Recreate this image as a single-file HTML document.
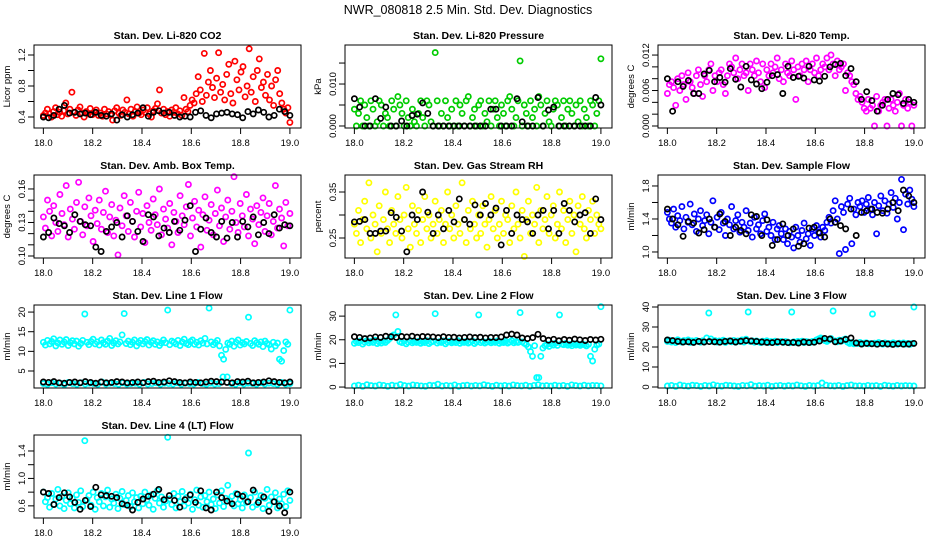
<!DOCTYPE html>
<html><head><meta charset="utf-8"><style>
html,body{margin:0;padding:0;background:#fff;}
svg{display:block;font-family:"Liberation Sans",sans-serif;}
</style></head><body>
<svg id="chart" width="936" height="540" viewBox="0 0 936 540" xmlns="http://www.w3.org/2000/svg">
<rect width="936" height="540" fill="#fff"/>
<text x="468" y="14" text-anchor="middle" font-size="12.5">NWR_080818  2.5 Min. Std. Dev. Diagnostics</text>
</svg>
<script>
// ---- data ----
const xTickLabels = ["18.0","18.2","18.4","18.6","18.8","19.0"];
const xTickValues = [18.0,18.2,18.4,18.6,18.8,19.0];
const timeStart = 18.0, timeEnd = 19.0;

const panelTitles = ["Stan. Dev. Li-820 CO2","Stan. Dev. Li-820 Pressure","Stan. Dev. Li-820 Temp.","Stan. Dev. Amb. Box Temp.","Stan. Dev. Gas Stream RH","Stan. Dev. Sample Flow","Stan. Dev. Line 1 Flow","Stan. Dev. Line 2 Flow","Stan. Dev. Line 3 Flow","Stan. Dev. Line 4 (LT) Flow"];
const panelUnits = ["Licor ppm","kPa","degrees C","degrees C","percent","ml/min","ml/min","ml/min","ml/min","ml/min"];

const co2Red = [0.42,0.45,0.50,0.44,0.40,0.47,0.52,0.43,0.46,0.41,0.48,0.58,0.44,0.50,0.72,0.46,0.42,0.49,0.53,0.45,0.40,0.47,0.44,0.51,0.43,0.46,0.49,0.42,0.45,0.41,0.50,0.44,0.47,0.43,0.36,0.48,0.52,0.45,0.42,0.49,0.46,0.62,0.44,0.50,0.41,0.47,0.53,0.45,0.43,0.49,0.46,0.52,0.44,0.40,0.48,0.51,0.57,0.75,0.45,0.50,0.43,0.47,0.41,0.49,0.46,0.52,0.44,0.48,0.42,0.65,0.50,0.47,0.55,0.62,0.58,0.70,0.92,0.75,0.60,1.22,0.68,0.85,1.0,0.78,0.65,0.90,1.23,0.72,0.82,0.62,0.95,1.08,0.70,0.58,1.12,0.88,0.75,0.98,1.05,0.66,0.80,1.28,0.72,0.92,0.60,1.0,1.15,0.78,0.85,0.68,0.95,0.62,0.80,0.55,0.88,1.0,0.70,0.58,0.50,0.45,0.52,0.33];
const co2Black = [0.40,0.39,0.42,0.50,0.55,0.45,0.46,0.44,0.45,0.43,0.46,0.42,0.41,0.44,0.36,0.43,0.40,0.43,0.45,0.52,0.41,0.46,0.48,0.45,0.46,0.42,0.40,0.41,0.40,0.46,0.48,0.42,0.39,0.44,0.45,0.46,0.44,0.43,0.39,0.47,0.44,0.49,0.46,0.40,0.42,0.50,0.47,0.42];

const pressGreen = [0.004,0,0.003,0.006,0,0.005,0.002,0,0.006,0.004,0,0.001,0.006,0.005,0,0.003,0.002,0,0.006,0.004,0,0.007,0.005,0.003,0,0.006,0.002,0,0.004,0.001,0,0.003,0.006,0.002,0,0.006,0.005,0.001,0,0.0175,0.006,0,0.003,0,0.006,0.002,0,0.004,0,0.006,0,0.005,0.003,0,0.006,0.007,0,0.002,0.004,0,0.005,0.006,0,0.003,0.001,0.006,0,0.004,0.006,0.002,0,0.005,0.003,0,0.006,0.007,0.004,0,0.002,0.006,0.0155,0,0.005,0.003,0,0.006,0.002,0.004,0,0.007,0.005,0,0.003,0.006,0.001,0,0.004,0.006,0.005,0,0.002,0.006,0,0.004,0.006,0.003,0,0.005,0.001,0.006,0,0.004,0.002,0,0.006,0.005,0,0.003,0.006,0.016];
const pressBlack = [0.0065,0.0045,0,0,0.0065,0.0018,0.0045,0,0,0.0012,0,0.0025,0.0028,0.0055,0.003,0,0,0,0,0,0,0,0,0,0,0,0.004,0.004,0,0,0,0.0065,0.001,0,0,0.0068,0,0.0038,0.0045,0,0,0,0,0,0,0,0.0068,0.005];

const tempMagenta = [0.0055,0.007,0.0075,0.0065,0.0035,0.008,0.006,0.0085,0.007,0.0045,0.009,0.0075,0.0065,0.0055,0.0085,0.0095,0.007,0.005,0.0085,0.0075,0.0095,0.0105,0.006,0.0085,0.0075,0.009,0.0095,0.007,0.0055,0.0085,0.0105,0.01,0.009,0.0115,0.008,0.0095,0.0105,0.0085,0.009,0.006,0.0105,0.0095,0.0085,0.011,0.009,0.0075,0.0105,0.0065,0.0095,0.0085,0.0105,0.009,0.01,0.0115,0.008,0.0095,0.0075,0.0105,0.009,0.0085,0.011,0.0095,0.0045,0.01,0.0085,0.0105,0.0095,0.011,0.0075,0.0095,0.0105,0.009,0.0115,0.0085,0.0095,0.0105,0.01,0.0115,0.0095,0.012,0.0105,0.0085,0.011,0.0095,0.01,0.0105,0.006,0.009,0.0085,0.0075,0.007,0.0055,0.0045,0.005,0.004,0.003,0.0025,0.0045,0.003,0.0035,0,0.005,0.0025,0.0035,0.004,0.0045,0,0.003,0.0045,0.0035,0.0025,0.004,0.0055,0,0.0035,0.0045,0.003,0.004,0,0.0035];
const tempBlack = [0.008,0.0025,0.0075,0.0067,0.0077,0.0055,0.0055,0.0088,0.0094,0.0075,0.0082,0.0074,0.0097,0.0079,0.0066,0.0101,0.0078,0.0071,0.0063,0.0074,0.0085,0.0087,0.0055,0.0101,0.0082,0.0084,0.0081,0.0101,0.0078,0.0076,0.0084,0.01,0.0104,0.0106,0.0085,0.0097,0.0075,0.0045,0.0058,0.0043,0.0025,0.0035,0.0045,0.0055,0.0053,0.0038,0.0045,0.004];

const boxMagenta = [0.135,0.125,0.150,0.140,0.118,0.145,0.130,0.122,0.155,0.138,0.128,0.163,0.117,0.142,0.133,0.124,0.148,0.166,0.131,0.119,0.144,0.127,0.152,0.136,0.113,0.141,0.129,0.150,0.124,0.139,0.158,0.121,0.135,0.146,0.118,0.132,0.101,0.143,0.127,0.154,0.136,0.122,0.148,0.131,0.117,0.140,0.157,0.126,0.138,0.112,0.145,0.130,0.123,0.151,0.137,0.128,0.160,0.119,0.142,0.133,0.125,0.147,0.110,0.139,0.131,0.121,0.154,0.136,0.128,0.144,0.164,0.118,0.134,0.149,0.126,0.141,0.108,0.137,0.153,0.123,0.132,0.146,0.119,0.138,0.159,0.127,0.143,0.113,0.135,0.150,0.124,0.140,0.171,0.130,0.121,0.147,0.136,0.126,0.155,0.118,0.142,0.133,0.111,0.145,0.128,0.139,0.152,0.122,0.136,0.147,0.119,0.131,0.163,0.125,0.142,0.134,0.109,0.148,0.127,0.138];
const boxBlack = [0.117,0.121,0.134,0.129,0.127,0.121,0.137,0.131,0.128,0.127,0.108,0.104,0.122,0.126,0.130,0.117,0.136,0.131,0.122,0.113,0.137,0.135,0.118,0.125,0.121,0.131,0.123,0.132,0.145,0.104,0.124,0.134,0.121,0.117,0.131,0.116,0.130,0.117,0.131,0.126,0.135,0.119,0.130,0.120,0.137,0.125,0.128,0.127];

const rhYellow = [0.28,0.26,0.31,0.24,0.29,0.33,0.27,0.37,0.25,0.30,0.28,0.22,0.32,0.26,0.29,0.35,0.27,0.24,0.31,0.28,0.26,0.34,0.29,0.25,0.30,0.36,0.27,0.23,0.32,0.28,0.26,0.31,0.24,0.29,0.34,0.27,0.30,0.25,0.28,0.33,0.26,0.29,0.31,0.24,0.28,0.35,0.27,0.30,0.25,0.32,0.28,0.26,0.37,0.29,0.24,0.31,0.27,0.33,0.28,0.25,0.30,0.26,0.32,0.28,0.23,0.29,0.34,0.27,0.31,0.25,0.28,0.33,0.26,0.30,0.29,0.24,0.32,0.27,0.35,0.28,0.25,0.31,0.21,0.29,0.33,0.26,0.30,0.28,0.36,0.24,0.31,0.27,0.29,0.34,0.26,0.30,0.32,0.25,0.28,0.35,0.27,0.31,0.24,0.29,0.33,0.26,0.30,0.22,0.32,0.28,0.34,0.27,0.25,0.31,0.29,0.33,0.26,0.30,0.28,0.27];
const rhBlack = [0.285,0.286,0.29,0.26,0.26,0.265,0.265,0.305,0.295,0.265,0.22,0.30,0.29,0.35,0.306,0.26,0.30,0.27,0.31,0.285,0.335,0.29,0.28,0.322,0.30,0.325,0.30,0.315,0.235,0.31,0.26,0.30,0.29,0.285,0.26,0.30,0.31,0.27,0.31,0.26,0.325,0.31,0.285,0.30,0.305,0.26,0.335,0.29];

const flowBlue = [1.48,1.40,1.35,1.52,1.30,1.44,1.38,1.55,1.28,1.42,1.36,1.58,1.33,1.46,1.25,1.40,1.50,1.32,1.38,1.45,1.22,1.36,1.62,1.30,1.42,1.27,1.48,1.35,1.20,1.40,1.33,1.55,1.28,1.38,1.45,1.24,1.36,1.30,1.50,1.26,1.35,1.18,1.42,1.28,1.33,1.22,1.38,1.46,1.25,1.30,1.20,1.36,1.15,1.28,1.32,1.22,1.15,1.28,1.10,1.25,1.18,1.05,1.30,1.20,1.12,1.26,1.35,1.16,1.22,1.08,1.28,1.20,1.32,1.24,1.18,1.30,1.26,1.36,1.42,1.35,1.50,1.62,1.40,0.98,1.55,1.48,1.03,1.58,1.65,1.10,1.52,1.45,1.60,1.55,1.62,1.48,1.58,1.66,1.52,1.45,1.60,1.22,1.56,1.68,1.50,1.62,1.47,1.58,1.72,1.54,1.65,1.40,1.60,1.88,1.27,1.70,1.58,1.75,1.64,1.55];
const flowBlack = [1.52,1.40,1.33,1.19,1.37,1.35,1.23,1.27,1.40,1.30,1.46,1.37,1.20,1.30,1.26,1.22,1.45,1.43,1.20,1.39,1.08,1.15,1.34,1.20,1.28,1.07,1.10,1.29,1.30,1.23,1.18,1.40,1.36,1.32,1.28,1.52,1.20,1.48,1.50,1.52,1.48,1.47,1.52,1.60,1.50,1.75,1.68,1.60];

const line1Cyan = [12.3,11.6,12.8,11.9,12.5,13.2,11.4,12.1,12.9,11.8,12.4,13.0,11.5,12.2,12.7,11.9,12.6,11.3,12.0,12.8,19.5,12.3,11.7,12.5,13.1,11.9,12.4,11.6,12.9,12.2,11.8,12.6,13.3,11.5,12.1,12.7,11.9,12.4,14.2,19.6,12.0,12.6,11.7,12.3,12.9,11.4,12.2,12.8,11.9,12.5,13.0,11.6,12.3,12.7,11.8,12.4,11.5,12.1,12.9,12.2,20.5,11.7,12.6,12.3,11.9,12.8,11.5,12.4,13.1,12.0,11.7,12.5,12.9,11.8,12.3,11.6,12.7,12.1,13.3,11.9,21.0,12.4,11.7,12.2,12.8,11.4,9.0,8.0,10.5,12.1,11.8,12.6,11.3,12.3,12.9,11.6,12.2,11.9,12.5,18.7,12.0,11.5,12.7,12.2,11.8,12.4,11.2,12.6,12.0,11.7,10.6,12.3,11.4,12.1,8.0,7.5,10.2,12.4,11.8,20.5];
const line1CyanLow = [1.8,1.6,2.0,1.7,1.9,1.5,2.1,1.8,1.6,2.0,1.7,1.9,1.8,1.6,2.2,1.7,1.9,1.8,1.6,2.0,1.7,1.8,1.9,1.6,2.1,1.7,1.8,2.0,1.6,1.9,1.8,1.7,2.0,1.6,1.9,1.8,1.7,2.1,1.8,1.6,1.9,1.7,1.8,3.5,3.5,1.8,1.6,2.0,1.7,1.9,1.8,1.6,2.0,1.7,1.9,1.8,1.6,2.1,1.7,1.8];
const line1Black = [2.2,2.1,2.3,2.0,1.9,2.1,2.2,2.0,2.3,2.1,1.9,2.2,2.0,2.1,2.3,2.2,2.0,2.1,2.2,2.0,2.3,2.4,2.1,2.2,2.5,2.3,2.1,2.0,2.2,2.1,2.0,2.2,2.4,2.3,2.2,2.1,2.0,2.3,2.2,2.4,2.0,2.1,2.2,2.5,2.3,2.1,2.0,2.2];

const line2Cyan = [18.5,19.2,18.8,19.5,18.2,19.0,19.6,18.7,19.3,18.9,19.8,18.4,19.1,18.6,19.4,18.9,19.7,20.5,21.5,22.0,30.5,23.5,19.2,18.8,19.5,18.3,19.0,19.6,18.7,19.2,18.9,19.4,18.5,19.1,18.8,19.6,18.4,19.0,19.3,31.0,18.6,19.2,18.9,19.5,18.3,19.0,19.4,18.7,19.1,18.8,19.6,18.5,19.2,18.9,19.3,18.6,19.0,19.5,18.4,19.1,30.5,18.8,19.3,18.6,19.0,19.4,18.7,19.2,18.9,19.5,18.5,19.1,18.8,19.3,18.6,19.0,19.6,18.7,19.2,18.9,31.5,19.1,18.5,18.0,17.0,15.0,13.0,17.5,4.0,4.0,13.0,16.5,17.5,18.0,17.2,18.3,17.8,18.5,17.6,30.5,18.2,17.9,18.4,17.7,18.1,17.5,18.3,17.8,18.0,17.6,18.2,17.9,17.4,18.1,13.0,11.0,16.0,17.8,18.2,34.0];
const line2CyanLow = [0.5,0.8,0.3,1.0,0.6,0.4,0.9,0.7,0.3,0.8,0.5,1.1,0.6,0.4,0.9,0.7,0.5,0.3,0.8,0.6,1.2,0.4,0.7,0.5,0.9,0.3,0.6,0.8,0.4,0.7,0.5,1.0,0.6,0.3,0.8,0.5,0.7,0.4,0.9,0.6,0.5,0.8,0.3,0.7,1.0,0.5,0.6,0.4,0.8,0.5,0.7,0.3,0.9,0.6,0.4,0.8,0.5,0.7,0.6,0.5];
const line2Black = [21.3,21.0,20.5,20.8,21.2,21.0,21.5,21.3,21.0,21.4,21.2,21.5,21.1,21.4,21.3,21.2,20.9,21.3,21.0,21.1,20.8,21.0,21.2,20.9,21.1,20.8,21.0,20.9,21.2,22.0,22.4,22.0,20.8,20.5,20.9,22.3,20.5,19.8,20.2,19.6,20.1,19.8,20.3,20.0,19.7,20.1,19.9,20.2];

const line3Cyan = [22.8,23.4,22.5,23.1,22.2,23.6,22.9,22.4,23.2,22.7,23.5,22.3,23.0,22.6,23.3,22.8,22.4,23.1,22.6,24.5,37.0,24.0,22.8,23.2,22.5,23.0,22.7,23.4,22.3,22.9,23.1,22.6,23.3,22.4,23.0,22.8,23.5,22.5,23.9,37.5,22.8,23.1,22.4,23.0,22.6,22.2,22.9,22.5,23.1,22.3,22.7,22.4,22.9,22.2,22.6,22.8,22.3,22.7,22.5,22.1,37.5,22.6,22.3,22.8,22.4,22.9,22.2,22.7,22.5,22.3,22.8,22.4,23.5,24.0,24.5,23.8,23.2,22.8,23.5,24.2,38.0,23.0,22.6,23.4,22.9,23.6,24.0,22.4,21.8,22.2,21.6,22.0,21.7,22.3,21.5,21.9,22.1,21.6,21.8,36.5,21.9,21.5,22.2,21.7,21.4,22.0,21.6,21.8,21.5,22.1,21.7,21.4,21.9,21.6,22.0,21.5,21.8,21.3,21.7,40.0];
const line3CyanLow = [0.5,0.8,0.3,1.0,0.6,0.4,0.9,0.7,0.3,0.8,0.5,1.1,0.6,0.4,0.9,0.7,0.5,0.3,0.8,0.6,1.2,0.4,0.7,0.5,0.9,0.3,0.6,0.8,0.4,0.7,0.5,1.0,0.6,0.3,0.8,0.5,0.7,2.0,0.9,0.6,0.5,0.8,0.3,0.7,1.0,0.5,0.6,0.4,0.8,0.5,0.7,0.3,0.9,0.6,0.4,0.8,0.5,0.7,0.6,0.5];
const line3Black = [23.5,23.2,22.8,22.5,22.6,22.3,22.8,22.5,22.7,22.6,22.4,22.8,23.0,22.5,22.9,23.2,23.0,22.8,22.5,22.3,22.2,22.6,22.4,22.2,22.3,22.0,22.5,22.2,22.4,23.0,24.3,24.0,22.6,23.0,23.8,24.5,22.0,21.5,21.8,21.6,21.4,21.7,21.5,21.3,21.6,21.4,21.5,21.8];

const line4Cyan = [0.80,0.66,0.72,0.58,0.78,0.62,0.70,0.84,0.60,0.74,0.56,0.68,0.79,0.63,0.71,0.57,0.76,0.65,0.82,0.59,1.55,0.69,0.75,0.61,0.80,0.55,0.72,0.66,0.78,0.60,0.73,0.83,0.58,0.70,0.64,0.77,0.56,0.71,0.81,0.62,0.68,0.75,0.59,0.79,0.66,0.72,0.57,0.74,0.63,0.80,0.69,0.61,0.76,0.55,0.71,0.82,0.64,0.73,0.58,0.67,1.60,0.70,0.62,0.78,0.57,0.74,0.66,0.81,0.60,0.72,0.64,0.77,0.55,0.69,0.83,0.61,0.73,0.58,0.75,0.66,0.80,0.62,0.70,0.56,0.76,0.64,0.82,0.59,0.71,0.90,0.67,0.74,0.60,0.78,0.63,0.69,0.57,0.76,0.65,1.37,0.72,0.58,0.80,0.62,0.68,0.75,0.56,0.71,0.84,0.61,0.73,0.66,0.79,0.57,0.70,0.63,0.77,0.59,0.82,0.68];
const line4Black = [0.80,0.78,0.62,0.72,0.79,0.73,0.65,0.55,0.68,0.59,0.87,0.76,0.75,0.74,0.72,0.63,0.61,0.54,0.65,0.70,0.74,0.77,0.84,0.69,0.75,0.68,0.58,0.69,0.76,0.65,0.82,0.57,0.54,0.80,0.72,0.67,0.63,0.77,0.74,0.66,0.83,0.65,0.73,0.52,0.66,0.60,0.50,0.80];

const yDomains = [[0.258,1.329],[-0.00048,0.0193],[-0.00034,0.0137],[0.0982,0.1725],[0.2065,0.387],[0.927,1.933],[0.67,21.8],[-0.4,34.7],[-0.5,41.0],[0.423,1.633]];
const yTickValues = [[0.4,0.6,0.8,1.0,1.2],[0,0.005,0.010,0.015],[0,0.002,0.004,0.006,0.008,0.010,0.012],[0.10,0.11,0.12,0.13,0.14,0.15,0.16],[0.25,0.30,0.35],[1.0,1.2,1.4,1.6,1.8],[5,10,15,20],[0,10,20,30],[0,10,20,30,40],[0.6,0.8,1.0,1.2,1.4]];
const yTickLabels = [["0.4","","0.8","","1.2"],["0.000","","0.010",""],["0.000","","","0.006","","","0.012"],["0.10","","","0.13","","","0.16"],["0.25","","0.35"],["1.0","","1.4","","1.8"],["5","10","15","20"],["0","10","20","30"],["0","10","20","30","40"],["0.6","","1.0","","1.4"]];

const colorSeries = [[co2Red],[pressGreen],[tempMagenta],[boxMagenta],[rhYellow],[flowBlue],[line1Cyan,line1CyanLow],[line2Cyan,line2CyanLow],[line3Cyan,line3CyanLow],[line4Cyan]];
const blackSeries = [co2Black,pressBlack,tempBlack,boxBlack,rhBlack,flowBlack,line1Black,line2Black,line3Black,line4Black];
const seriesColors = ["#ff0000","#00cc00","#ff00ff","#ff00ff","#ffff00","#0000ff","#00ffff","#00ffff","#00ffff","#00ffff"];

// ---- layout ----
const colLeft = [34,345,658], rowTop = [45,175,305,435], boxW = 267, boxH = 83;
const xMin = 17.962, xMax = 19.045;
const NS = "http://www.w3.org/2000/svg";
const svg = document.getElementById("chart");
function mk(tag, attrs, parent){ const e=document.createElementNS(NS,tag); for(const k in attrs) e.setAttribute(k,attrs[k]); (parent||svg).appendChild(e); return e; }
function slug(s){ return s.toLowerCase().replace(/[^a-z0-9]+/g,'-').replace(/^-|-$/g,''); }

panelTitles.forEach((title,p)=>{
  const L = colLeft[p%3], T = rowTop[Math.floor(p/3)];
  const g = mk("g",{});
  
  
  const xs = v => L + (v - xMin)/(xMax - xMin)*boxW;
  const ys = v => T + boxH - (v - yDomains[p][0])/(yDomains[p][1]-yDomains[p][0])*boxH;
  const plotSeries = (arr, color, nm) => {
    const sg = mk("g",{fill:"none",stroke:color,"stroke-width":"1.7"},g);
    
    
    const n = arr.length;
    arr.forEach((v,i)=>{
      const t = timeStart + (timeEnd-timeStart)*i/(n-1);
      const c = mk("circle",{cx:xs(t).toFixed(1),cy:ys(v).toFixed(1),r:"2.6"},sg);
      
      
    });
  };
  colorSeries[p].forEach((arr,k)=>plotSeries(arr, seriesColors[p], 'color-series-'+(k+1)));
  plotSeries(blackSeries[p], "#000", 'black-series');
  const box = mk("rect",{x:L,y:T,width:boxW,height:boxH,fill:"none",stroke:"#000","stroke-width":"1"},g);
  
  
  const tt = mk("text",{x:L+boxW/2,y:T-6,"text-anchor":"middle","font-size":"10.5","font-weight":"bold"},g);
  tt.textContent = title;
  
  
  const xa = mk("g",{},g);
  
  
  mk("line",{x1:xs(xTickValues[0]),x2:xs(xTickValues[xTickValues.length-1]),y1:T+boxH,y2:T+boxH,stroke:"#000"},xa);
  xTickValues.forEach((v,i)=>{
    mk("line",{x1:xs(v),x2:xs(v),y1:T+boxH,y2:T+boxH+6,stroke:"#000"},xa);
    const lb = mk("text",{x:xs(v),y:T+boxH+18,"text-anchor":"middle","font-size":"9.5"},xa);
    lb.textContent = xTickLabels[i];
    
    
  });
  const ya = mk("g",{},g);
  
  
  const tv = yTickValues[p];
  mk("line",{x1:L,x2:L,y1:ys(tv[0]),y2:ys(tv[tv.length-1]),stroke:"#000"},ya);
  tv.forEach((v,i)=>{
    mk("line",{x1:L-6,x2:L,y1:ys(v),y2:ys(v),stroke:"#000"},ya);
    if(yTickLabels[p][i]){
      const y=ys(v), x=L-9;
      const lb = mk("text",{x:x,y:y,"text-anchor":"middle","font-size":"9.5",transform:`rotate(-90 ${x} ${y})`},ya);
      lb.textContent = yTickLabels[p][i];
      
      
    }
  });
  const yx = L-24, yy = T+boxH/2;
  const yt = mk("text",{x:yx,y:yy,"text-anchor":"middle","font-size":"9.5",transform:`rotate(-90 ${yx} ${yy})`},g);
  yt.textContent = panelUnits[p];
  
  
});
</script>
</body></html>
